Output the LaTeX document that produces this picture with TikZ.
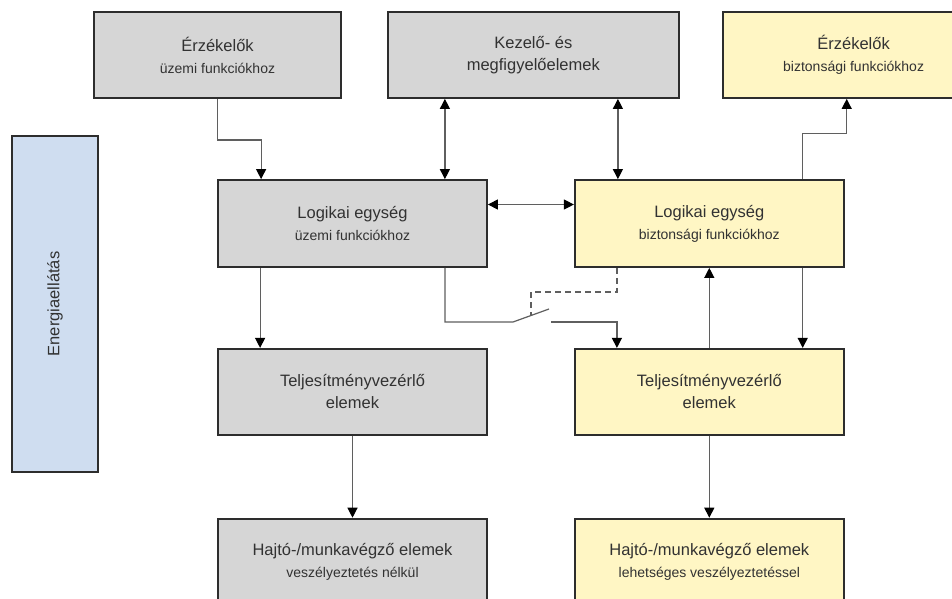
\documentclass[tikz,border=0pt]{standalone}
\usepackage{fontspec}
\setmainfont{Liberation Sans}
\usepackage{xcolor}
\definecolor{boxgray}{RGB}{214,214,214}
\definecolor{boxyellow}{RGB}{255,246,196}
\definecolor{boxblue}{RGB}{207,221,240}
\definecolor{framegray}{RGB}{45,45,45}
\definecolor{linegray}{RGB}{95,95,95}
\definecolor{textgray}{RGB}{50,50,50}
\newcommand{\subfont}{\fontsize{14}{22}\selectfont}
\usepackage{tikz}
\usetikzlibrary{arrows.meta,positioning}

\begin{document}
\begin{tikzpicture}[x=1pt,y=-1pt,
opbox/.style={draw=framegray,line width=1.8pt,fill=boxgray,align=center,text=textgray,minimum height=86pt,font=\fontsize{16.5}{22}\selectfont},
safebox/.style={opbox,fill=boxyellow},
arrow/.style={-{Triangle[length=10pt,width=10pt,color=black]},line width=1.2pt,draw=linegray},
biarrow/.style={{Triangle[length=10pt,width=10pt,color=black]}-{Triangle[length=10pt,width=10pt,color=black]},line width=1.2pt,draw=linegray},
wire/.style={line width=1.2pt,draw=linegray},
ctrl/.style={line width=1.2pt,draw=linegray,dash pattern=on 6pt off 4pt}]
\path[use as bounding box,fill=white] (0,0) rectangle (952,598);
% felso sor
\node[opbox,minimum width=247pt] (sensop) at (217.5,55) {Érzékelők\\{\subfont üzemi funkciókhoz}};
\node[opbox,minimum width=291pt,right=45pt of sensop] (kezelo) {Kezelő- és\\megfigyelőelemek};
\node[safebox,minimum width=262pt,right=42pt of kezelo] (sensbt) {Érzékelők\\{\subfont biztonsági funkciókhoz}};
% logikai egysegek
\node[opbox,minimum width=269pt,minimum height=87pt] (logop) at (352.5,223.5) {Logikai egység\\{\subfont üzemi funkciókhoz}};
\node[safebox,minimum width=269pt,minimum height=87pt,right=86pt of logop] (logbt) {Logikai egység\\{\subfont biztonsági funkciókhoz}};
% teljesitmeny
\node[opbox,minimum width=269pt,below=80pt of logop] (telop) {Teljesítményvezérlő\\elemek};
\node[safebox,minimum width=269pt,below=80pt of logbt] (telbt) {Teljesítményvezérlő\\elemek};
% hajto elemek
\node[opbox,minimum width=269pt,below=82pt of telop] (hajop) {Hajtó-/munkavégző elemek\\{\subfont veszélyeztetés nélkül}};
\node[safebox,minimum width=269pt,below=82pt of telbt] (hajbt) {Hajtó-/munkavégző elemek\\{\subfont lehetséges veszélyeztetéssel}};
% energia
\node[opbox,fill=boxblue,rotate=90,minimum width=336pt,minimum height=86pt] (energia) at (55,304) {Energiaellátás};
% kapcsolo
\coordinate (swa) at (513,322);
\coordinate (blade) at (549,309);
\coordinate (swb) at (551,322);
\path (swa) -- (blade) coordinate[pos=0.5] (bm);
% osszekotesek
\draw[arrow] (sensop.south -| logop.west) -- ++(0,41) -| ([xshift=44pt]logop.north west);
\draw[biarrow] ([xshift=-43pt]logop.north east |- kezelo.south) -- ([xshift=-43pt]logop.north east);
\draw[biarrow] ([xshift=44pt]logbt.north west |- kezelo.south) -- ([xshift=44pt]logbt.north west);
\draw[biarrow] ([yshift=19pt]logop.east) -- ([yshift=19pt]logbt.west);
\draw[arrow] ([xshift=-42pt]logbt.north east) -- ++(0,-46) -| ([xshift=125pt]sensbt.south west);
\draw[arrow] ([xshift=43pt]logop.south west) -- ([xshift=43pt]logop.south west |- telop.north);
\draw[arrow] (telop) -- (hajop);
\draw[arrow] (telbt) -- (hajbt);
\draw[arrow] (telbt) -- (logbt);
\draw[arrow] ([xshift=-42pt]logbt.south east) -- ([xshift=-42pt]logbt.south east |- telbt.north);
\draw[wire] ([xshift=-43pt]logop.south east) |- (swa) -- (blade);
\draw[arrow] (swb) -| ([xshift=43pt]telbt.north west);
\draw[ctrl] ([xshift=43pt]logbt.south west) -- ++(0,24) -| (bm);
\end{tikzpicture}
\end{document}
